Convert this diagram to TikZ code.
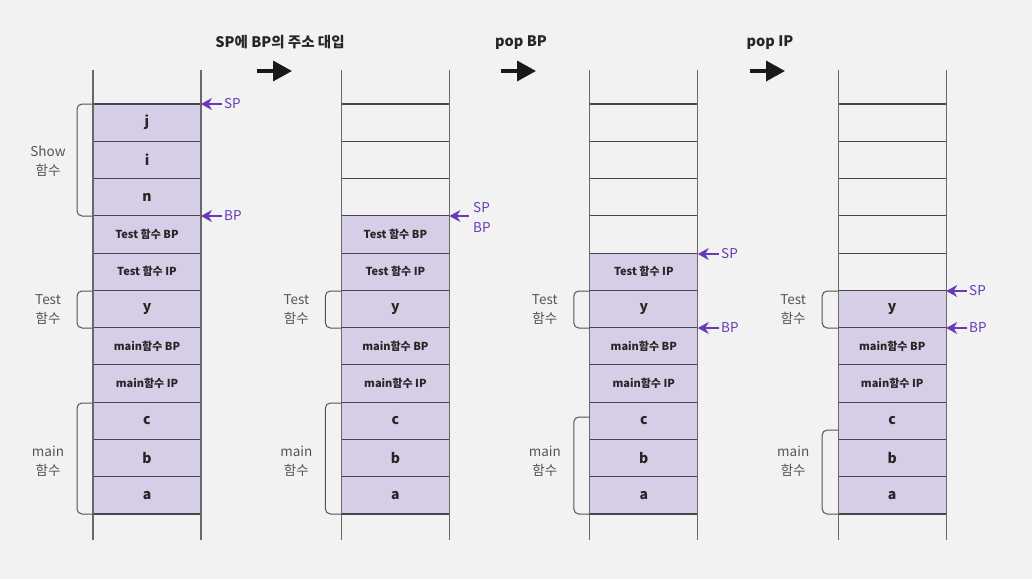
\documentclass[tikz,border=0pt]{standalone}
\usepackage{fontspec}
\setmainfont{Noto Sans CJK KR}
\usepackage{tikz}
\usetikzlibrary{positioning,arrows.meta,calc}
\definecolor{PageGray}{RGB}{242,242,242}
\definecolor{CellFill}{RGB}{213,206,230}
\definecolor{CellLine}{RGB}{72,68,82}
\definecolor{RailGray}{RGB}{105,105,105}
\definecolor{PtrPurple}{RGB}{104,58,184}
\definecolor{NoteGray}{RGB}{85,85,85}
\tikzset{
    cell/.style={draw=CellLine,fill=CellFill,line width=1.1pt,minimum width=108pt,minimum height=37.27pt,inner sep=0pt,text=black!85},
    bigtxt/.style={font=\fontsize{14}{16}\selectfont\bfseries},
    smalltxt/.style={font=\fontsize{11}{13}\selectfont\bfseries},
    rail/.style={draw=RailGray,line width=1.3pt},
    brace/.style={draw=NoteGray,line width=1pt,rounded corners=5pt},
    note/.style={text=NoteGray,align=center,font=\fontsize{13.5}{19}\selectfont},
    ptr/.style={draw=PtrPurple,line width=1.2pt,-{Stealth[length=11pt,width=12pt]}},
    ptrlabel/.style={text=PtrPurple,anchor=west,inner sep=2pt,align=left,font=\fontsize{13.5}{20}\selectfont},
    step arrow/.style={line width=3.5pt,black!90,-{Triangle[length=19pt,width=20pt]}},
    title/.style={font=\fontsize{14.5}{17}\selectfont\bfseries,text=black!85}
}

\begin{document}
\begin{tikzpicture}[x=1pt,y=-1pt]
    \useasboundingbox[fill=PageGray] (0,0) rectangle (1032,579);
    % four stack snapshots
    \foreach \s/\first in {1/0,2/3,3/4,4/5} {
        \pgfmathsetmacro{\xl}{93+248.4*(\s-1)}
        \pgfmathsetmacro{\xr}{\xl+108}
        \foreach \r/\t/\f in {0/j/bigtxt,1/i/bigtxt,2/n/bigtxt,3/Test 함수 BP/smalltxt,4/Test 함수 IP/smalltxt,5/y/bigtxt,6/main함수 BP/smalltxt,7/main함수 IP/smalltxt,8/c/bigtxt,9/b/bigtxt,10/a/bigtxt} {
            \ifnum\r<\first
                \draw[draw=CellLine,line width=1.1pt] (\xl,{104+37.27*\r}) -- (\xr,{104+37.27*\r});
            \else
                \node[cell,\f] (c\s-\r) at ({\xl+54},{104+37.27*(\r+0.5)}) {\t};
            \fi
        }
        \draw[rail] (\xl,70) -- (\xl,540);
        \draw[rail] (\xr,70) -- (\xr,540);
        % frame labels
        \node[note] (test\s) at ({\xl-45},310) {Test\\함수};
        \node[note] (main\s) at ({\xl-45},461) {main\\함수};
        \draw[brace] (\xl,291) -- ({\xl-16},291) -- ({\xl-16},328) -- (\xl,328);
    }
    \node[note] (show1) at (48,161) {Show\\함수};
    \draw[brace] (93,104) -- (77,104) -- (77,216) -- (93,216);
    \draw[brace] (93,403) -- (77,403) -- (77,514) -- (93,514);
    \draw[brace] (341.4,403) -- (325.4,403) -- (325.4,514) -- (341.4,514);
    \draw[brace] (589.8,417) -- (573.8,417) -- (573.8,514) -- (589.8,514);
    \draw[brace] (838.2,430) -- (822.2,430) -- (822.2,514) -- (838.2,514);

    % SP / BP pointers
    \coordinate (sp1) at (201,104);
    \coordinate (bp1) at (201,216);
    \node[ptrlabel] (sptxt1) at (222,104) {SP};
    \node[ptrlabel] (bptxt1) at (222,216) {BP};
    \draw[ptr] (sptxt1.west) -- (sp1);
    \draw[ptr] (bptxt1.west) -- (bp1);

    \coordinate (spbp2) at (449.4,216);
    \node[ptrlabel] (spbptxt2) at (471,217) {SP\\BP};
    \draw[ptr] (469,216) -- (spbp2);

    \coordinate (sp3) at (697.8,254);
    \coordinate (bp3) at (697.8,328);
    \node[ptrlabel] (sptxt3) at (719,254) {SP};
    \node[ptrlabel] (bptxt3) at (719,328) {BP};
    \draw[ptr] (sptxt3.west) -- (sp3);
    \draw[ptr] (bptxt3.west) -- (bp3);

    \coordinate (sp4) at (946.2,291);
    \coordinate (bp4) at (946.2,328);
    \node[ptrlabel] (sptxt4) at (967,291) {SP};
    \node[ptrlabel] (bptxt4) at (967,328) {BP};
    \draw[ptr] (sptxt4.west) -- (sp4);
    \draw[ptr] (bptxt4.west) -- (bp4);

    % steps
    \foreach \x [count=\k] in {257,501,750} {
        \coordinate (go\k) at (\x,71);
        \coordinate (end\k) at ({\x+35},71);
        \draw[step arrow] (go\k) -- (end\k);
    }
    \node[title] (step1) at (280,42) {SP에 BP의 주소 대입};
    \node[title] (step2) at (521,43) {pop BP};
    \node[title] (step3) at (770,43) {pop IP};
\end{tikzpicture}
\end{document}
